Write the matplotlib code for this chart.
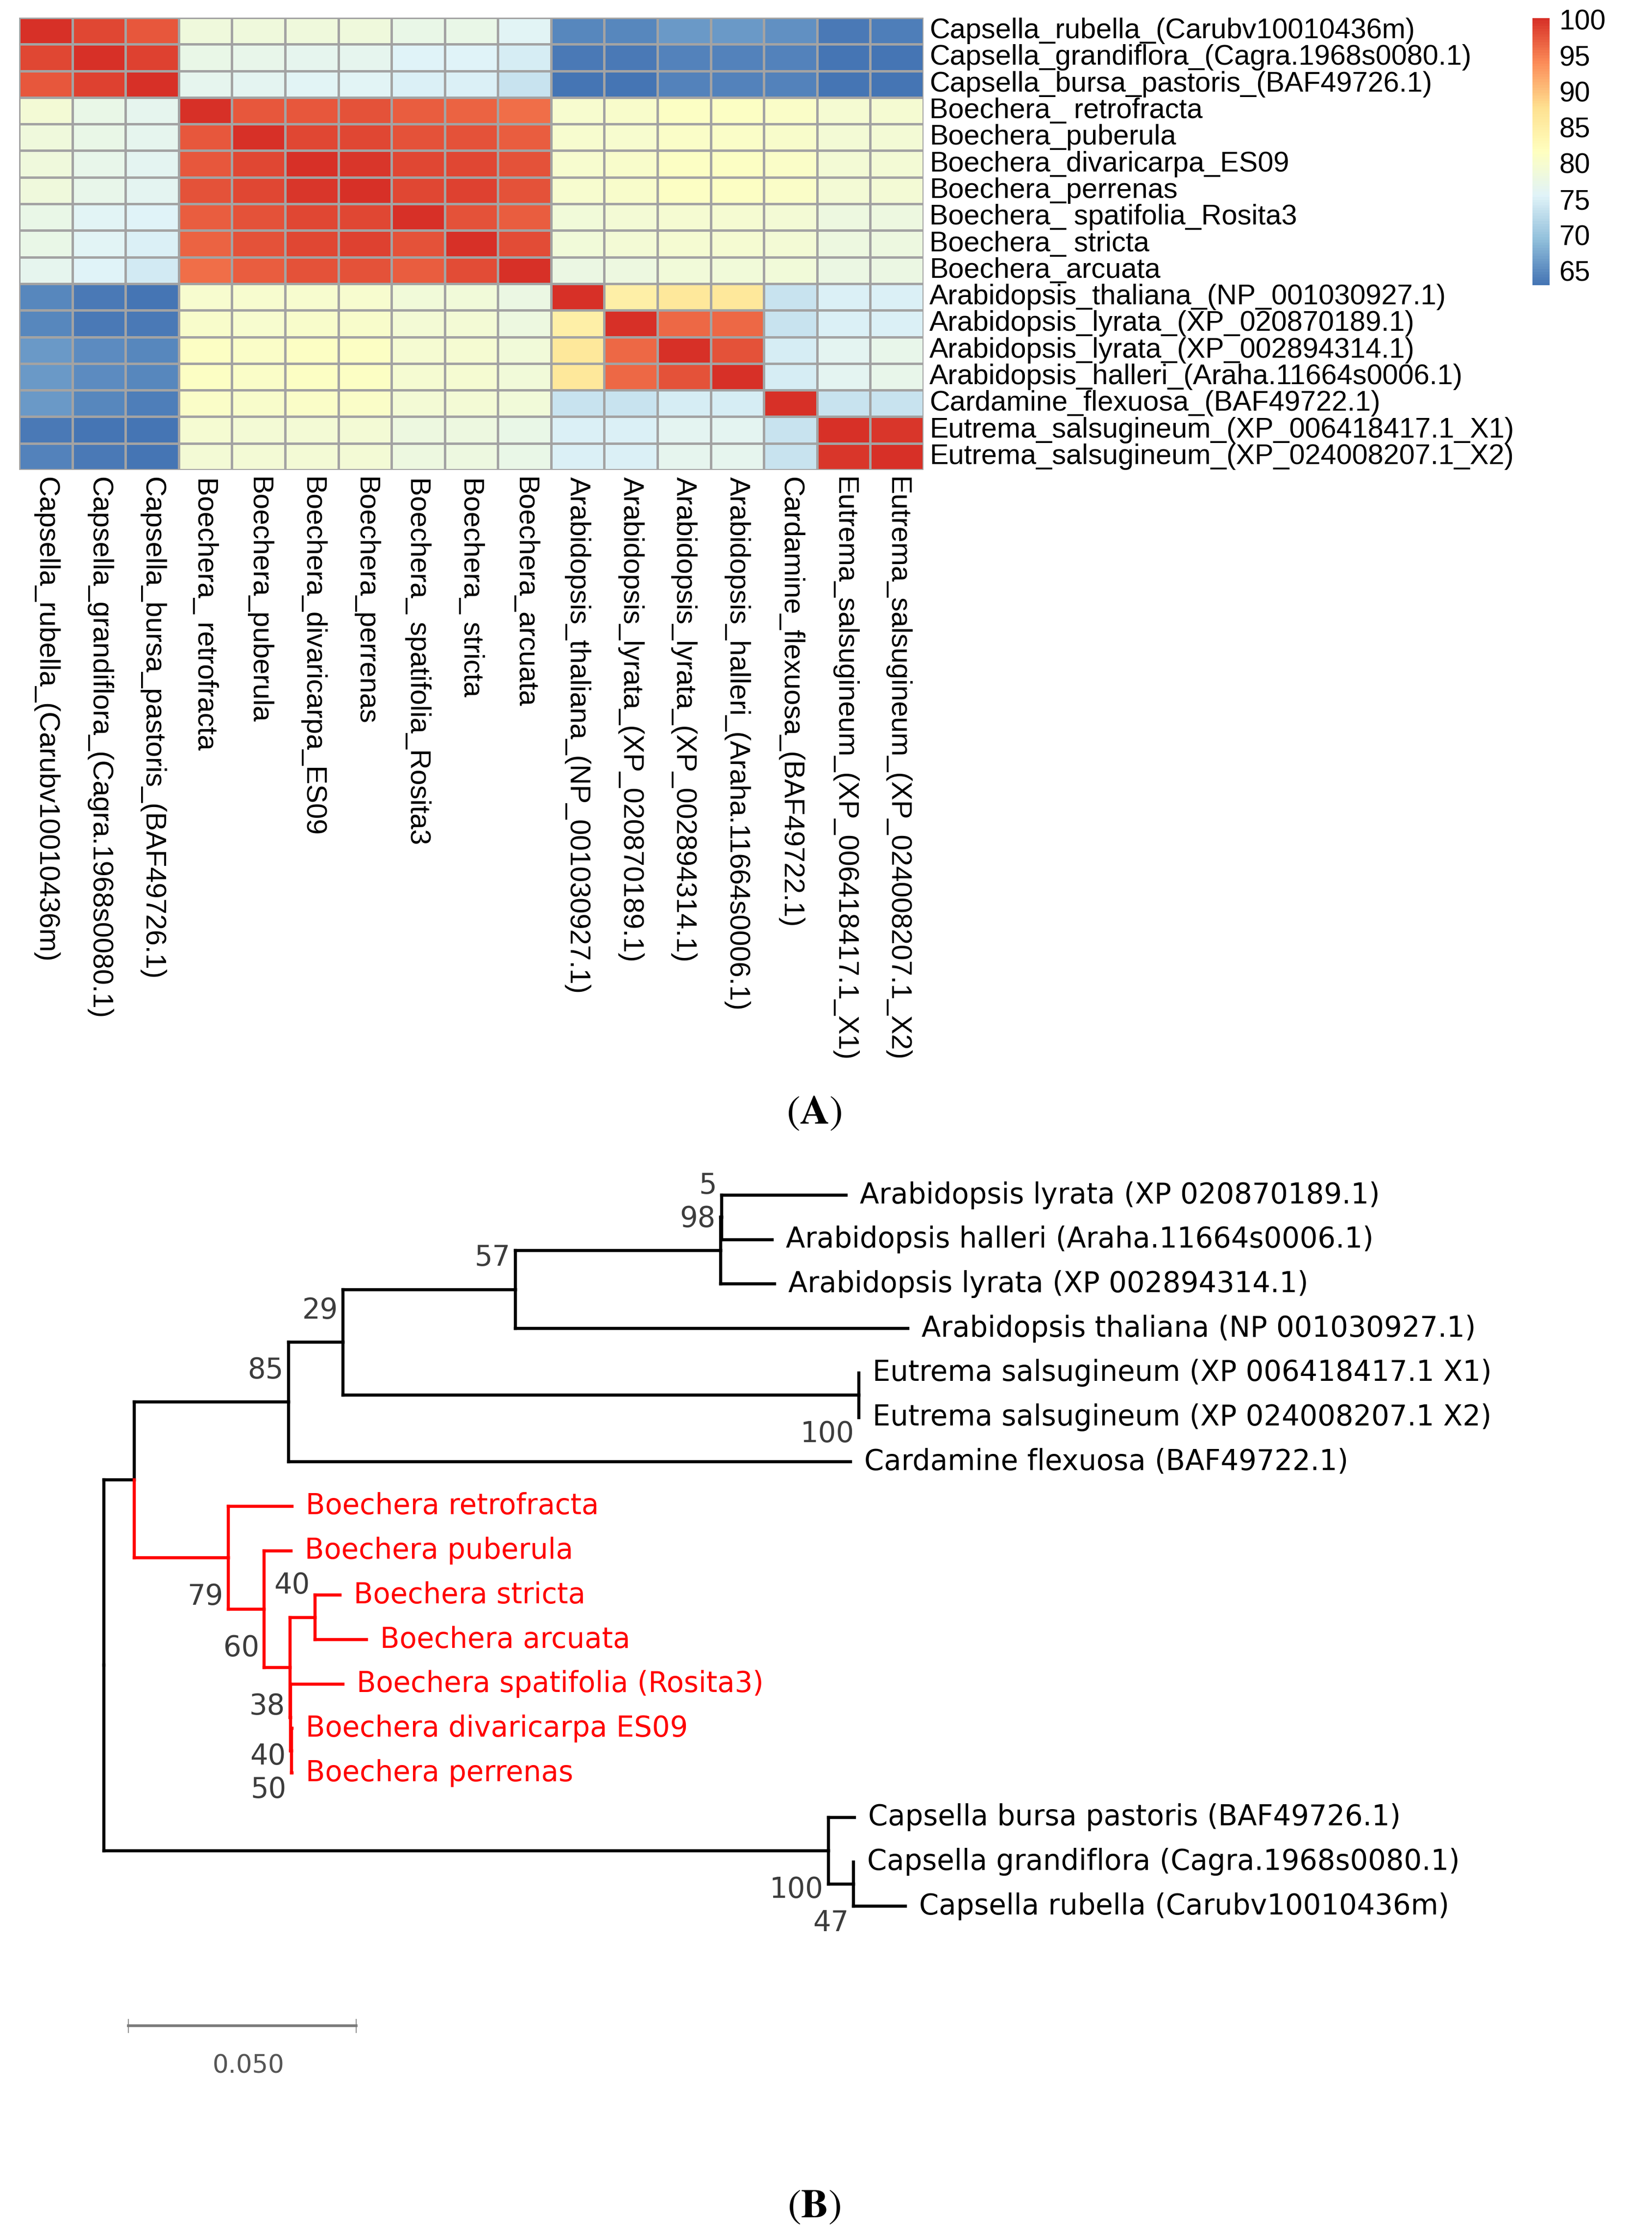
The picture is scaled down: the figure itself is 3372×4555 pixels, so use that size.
import numpy as np
import matplotlib
matplotlib.use("Agg")
import matplotlib.pyplot as plt
from matplotlib.colors import LinearSegmentedColormap, Normalize
from matplotlib.cm import ScalarMappable

plt.rcParams["mathtext.fontset"] = "stix"

# ---------------- (A) identity heatmap ----------------
taxa = [
    "Capsella_rubella_(Carubv10010436m)",
    "Capsella_grandiflora_(Cagra.1968s0080.1)",
    "Capsella_bursa_pastoris_(BAF49726.1)",
    "Boechera_ retrofracta",
    "Boechera_puberula",
    "Boechera_divaricarpa_ES09",
    "Boechera_perrenas",
    "Boechera_ spatifolia_Rosita3",
    "Boechera_ stricta",
    "Boechera_arcuata",
    "Arabidopsis_thaliana_(NP_001030927.1)",
    "Arabidopsis_lyrata_(XP_020870189.1)",
    "Arabidopsis_lyrata_(XP_002894314.1)",
    "Arabidopsis_halleri_(Araha.11664s0006.1)",
    "Cardamine_flexuosa_(BAF49722.1)",
    "Eutrema_salsugineum_(XP_006418417.1_X1)",
    "Eutrema_salsugineum_(XP_024008207.1_X2)",
]

identity = [
    [100, 98.5, 97.5, 78.5, 78.5, 78.5, 78.5, 77.5, 77.5, 76.0, 64.8, 64.8, 66.3, 66.3, 65.5, 63.7, 63.8],
    [98.5, 100, 99.0, 77.3, 76.8, 76.5, 76.5, 75.3, 75.3, 74.6, 63.6, 63.6, 64.4, 64.4, 64.3, 63.1, 63.1],
    [97.5, 99.0, 100, 76.5, 76.2, 76.0, 75.8, 75.0, 75.0, 73.6, 63.3, 63.3, 64.2, 64.2, 64.2, 63.0, 63.0],
    [79.0, 77.5, 76.5, 100, 97.5, 97.5, 97.7, 96.9, 96.8, 96.1, 80.0, 80.2, 81.0, 81.0, 80.8, 79.5, 79.5],
    [78.5, 77.2, 76.5, 97.5, 100, 98.6, 98.6, 97.8, 97.6, 97.0, 79.8, 80.0, 80.8, 80.8, 80.3, 79.3, 79.3],
    [78.5, 77.0, 76.3, 97.5, 98.6, 100, 99.8, 98.5, 98.7, 97.9, 80.0, 80.2, 81.0, 81.0, 80.5, 79.3, 79.3],
    [78.5, 77.0, 76.3, 97.7, 98.6, 99.8, 100, 98.6, 98.8, 97.9, 80.0, 80.2, 81.0, 81.0, 80.5, 79.3, 79.3],
    [77.5, 75.8, 75.5, 96.9, 97.8, 98.5, 98.6, 100, 97.6, 97.2, 78.8, 79.0, 79.6, 79.6, 79.3, 78.2, 78.2],
    [77.5, 75.8, 75.2, 96.8, 97.6, 98.7, 98.8, 97.6, 100, 98.2, 78.8, 79.0, 79.6, 79.6, 79.3, 78.2, 78.2],
    [76.5, 75.3, 74.2, 96.1, 97.0, 97.9, 97.9, 97.2, 98.2, 100, 77.8, 78.2, 78.8, 78.8, 78.8, 77.6, 77.6],
    [64.8, 63.5, 63.2, 80.0, 79.8, 80.0, 80.0, 78.8, 78.8, 77.8, 100, 84.7, 86.3, 86.3, 73.6, 75.2, 75.2],
    [64.8, 63.6, 63.4, 80.2, 80.0, 80.2, 80.2, 79.0, 79.0, 78.2, 84.7, 100, 96.4, 96.4, 73.6, 75.2, 75.2],
    [66.2, 65.0, 64.6, 81.0, 80.8, 81.0, 81.0, 79.6, 79.6, 78.8, 86.3, 96.4, 100, 97.6, 74.8, 76.3, 76.8],
    [66.2, 65.0, 64.6, 81.0, 80.8, 81.0, 81.0, 79.6, 79.6, 78.8, 86.3, 96.4, 97.6, 100, 74.8, 76.3, 76.8],
    [66.0, 64.8, 63.9, 80.8, 80.3, 80.5, 80.5, 79.3, 79.3, 78.8, 73.6, 73.6, 74.8, 74.8, 100, 73.6, 73.6],
    [63.6, 63.0, 63.0, 79.5, 79.0, 79.0, 79.0, 78.0, 78.0, 77.2, 75.2, 75.2, 76.3, 76.3, 73.6, 100, 99.8],
    [64.2, 63.4, 63.0, 79.3, 79.0, 79.0, 79.0, 78.0, 78.0, 77.2, 75.2, 75.2, 76.5, 76.5, 73.6, 99.8, 100],
]

legend_ticks = [65, 70, 75, 80, 85, 90, 95, 100]

# ---------------- (B) neighbour-joining tree ----------------
# one entry per node: tip text ("" for internal), parent index, branch length, bootstrap
node_text = [
    "", "", "", "", "", "", "",
    "Arabidopsis lyrata (XP 020870189.1)",
    "Arabidopsis halleri (Araha.11664s0006.1)",
    "Arabidopsis lyrata (XP 002894314.1)",
    "Arabidopsis thaliana (NP 001030927.1)",
    "",
    "Eutrema salsugineum (XP 006418417.1 X1)",
    "Eutrema salsugineum (XP 024008207.1 X2)",
    "Cardamine flexuosa (BAF49722.1)",
    "",
    "Boechera retrofracta",
    "",
    "Boechera puberula",
    "", "",
    "Boechera stricta",
    "Boechera arcuata",
    "",
    "Boechera spatifolia (Rosita3)",
    "",
    "Boechera divaricarpa ES09",
    "Boechera perrenas",
    "",
    "Capsella bursa pastoris (BAF49726.1)",
    "",
    "Capsella grandiflora (Cagra.1968s0080.1)",
    "Capsella rubella (Carubv10010436m)",
]
node_parent = [-1, 0, 1, 2, 3, 4, 5, 6, 6, 5, 4, 3, 11, 11, 2, 1, 15, 15, 17, 17, 19, 20, 20,
               19, 23, 23, 25, 25, 0, 28, 28, 30, 30]
branch_len = [0, 0.0067, 0.0338, 0.0120, 0.0378, 0.0450, 0.0003, 0.0273, 0.0110, 0.0119,
              0.0861, 0.1132, 0.0, 0.0, 0.1233, 0.0206, 0.0140, 0.0079, 0.0059, 0.0056,
              0.0055, 0.0055, 0.0113, 0.0002, 0.0115, 0.0002, 0.0001, 0.0001, 0.1590,
              0.0057, 0.0055, 0.0, 0.0114]
bootstrap = ["", "", "85", "29", "57", "98", "5", "", "", "", "", "100", "", "", "", "79",
             "", "60", "", "38", "40", "", "", "40", "", "50", "", "", "100", "", "47", "", ""]
highlight_clade = 15  # Boechera
scale_len = 0.05

# ---------------- layout ----------------
W, H = 3372, 4555
fig = plt.figure(figsize=(W / 100, H / 100), dpi=100)


def box(left, top, right, bottom):
    return [left / W, 1 - bottom / H, (right - left) / W, (bottom - top) / H]


cmap = LinearSegmentedColormap.from_list(
    "pheat", ["#4575B4", "#91BFDB", "#E0F3F8", "#FFFFBF", "#FEE090", "#FC8D59", "#D73027"], N=100)
norm = Normalize(vmin=63.0, vmax=100.2)

ax = fig.add_axes(box(39, 36, 1885, 959))
Z = np.array(identity)
n = len(taxa)
ax.pcolormesh(np.arange(n + 1), np.arange(n + 1), Z, cmap=cmap, norm=norm,
              edgecolors="#A3A3A3", linewidth=2.2)
ax.set_xlim(0, n)
ax.set_ylim(n, 0)
ax.axis("off")

hm_font = dict(family="Liberation Sans", fontsize=41.5, color="black")
for i, name in enumerate(taxa):
    ax.annotate(name, xy=(1, 1 - (i + 0.5) / n), xycoords="axes fraction",
                xytext=(12, 0), textcoords="offset pixels", ha="left", va="center", **hm_font)
    ax.annotate(name, xy=((i + 0.5) / n, 0), xycoords="axes fraction",
                xytext=(0, -14), textcoords="offset pixels", rotation=270,
                rotation_mode="anchor", ha="left", va="center", **hm_font)

cax = fig.add_axes(box(3128, 37, 3163, 582))
cb = fig.colorbar(ScalarMappable(norm=norm, cmap=cmap), cax=cax, ticks=legend_ticks)
cb.outline.set_visible(False)
cax.tick_params(length=0, pad=14)
for t in cax.get_yticklabels():
    t.set_fontfamily("Liberation Sans")
    t.set_fontsize(41)

fig.text(1662 / W, 1 - 2270 / H, r"$(\mathbf{A})$", ha="center", va="center", fontsize=60)

# ---------------- tree ----------------
root_px, unit_px = 212, 9302
tip0_px, tip_step = 2439, 90.7
tax = fig.add_axes(box(0, 2300, W, 4300))
tax.set_xlim(-root_px / unit_px, (W - root_px) / unit_px)
tax.set_ylim((4300 - tip0_px) / tip_step, (2300 - tip0_px) / tip_step)
tax.axis("off")

N = len(node_parent)
children = [[] for _ in range(N)]
for k, p in enumerate(node_parent):
    if p >= 0:
        children[p].append(k)

xs = [0.0] * N
for k in range(1, N):
    xs[k] = xs[node_parent[k]] + branch_len[k]

ys = [0.0] * N
tip_count = [0]


def place(k):
    if not children[k]:
        ys[k] = tip_count[0]
        tip_count[0] += 1
    else:
        for c in children[k]:
            place(c)
        ys[k] = (ys[children[k][0]] + ys[children[k][-1]]) / 2


place(0)

red = [False] * N
for k in range(N):
    j = k
    while j >= 0:
        if j == highlight_clade:
            red[k] = True
            break
        j = node_parent[j]

lw = 4.6
for k in range(1, N):
    p = node_parent[k]
    col = "#FF0000" if red[k] else "black"
    tax.plot([xs[p], xs[p]], [ys[p], ys[k]], color=col, lw=lw, solid_capstyle="projecting")
    tax.plot([xs[p], xs[k]], [ys[k], ys[k]], color=col, lw=lw, solid_capstyle="projecting")

gap = 28 / unit_px
for k in range(N):
    if node_text[k]:
        tax.text(xs[k] + gap, ys[k], node_text[k], ha="left", va="center",
                 fontsize=41.5, family="DejaVu Sans",
                 color="#FF0000" if red[k] else "black")
    if bootstrap[k]:
        p = node_parent[k]
        lower = p >= 0 and children[p][-1] == k
        tax.text(xs[k] - 10 / unit_px, ys[k] + (0.88 if lower else -0.72), bootstrap[k],
                 ha="right", va="center", fontsize=41.5, family="DejaVu Sans", color="#3C3C3C")

# scale bar
sb_x0, sb_y = 50 / unit_px, 18.69
tax.plot([sb_x0, sb_x0 + scale_len], [sb_y, sb_y], color="#7A7A7A", lw=4)
for xe in (sb_x0, sb_x0 + scale_len):
    tax.plot([xe, xe], [sb_y - 0.15, sb_y + 0.15], color="#7A7A7A", lw=1.2)
tax.text(sb_x0 + scale_len / 2 + 12 / unit_px, 19.6, f"{scale_len:.3f}", ha="center",
         va="center", fontsize=37, family="DejaVu Sans", color="#555555")

fig.text(1662 / W, 1 - 4502 / H, r"$(\mathbf{B})$", ha="center", va="center", fontsize=60)

fig.savefig("out.png", dpi=100, facecolor="white")
